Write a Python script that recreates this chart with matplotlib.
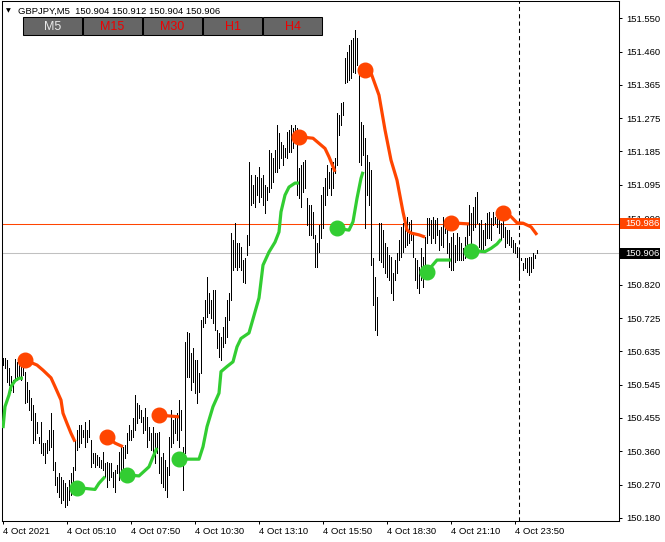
import matplotlib
matplotlib.use('Agg')
import matplotlib.pyplot as plt
import matplotlib.transforms as mtransforms
from matplotlib.patches import Rectangle

plt.rcParams['font.family'] = ['Liberation Sans', 'DejaVu Sans']

# M5 bars, high/low per bar (bar 0 = 4 Oct 02:30)
highs = [
    150.619, 150.619, 150.613, 150.591, 150.569, 150.558, 150.616, 150.608, 150.616, 150.613,
    150.599, 150.580, 150.553, 150.531, 150.509, 150.490, 150.468, 150.443, 150.402, 150.443,
    150.386, 150.386, 150.394, 150.421, 150.468, 150.421, 150.333, 150.292, 150.303, 150.292,
    150.284, 150.276, 150.265, 150.284, 150.303, 150.319, 150.394, 150.421, 150.435, 150.435,
    150.421, 150.443, 150.421, 150.448, 150.394, 150.358, 150.358, 150.352, 150.347, 150.339,
    150.361, 150.331, 150.333, 150.331, 150.331, 150.306, 150.311, 150.325, 150.361, 150.375,
    150.375, 150.380, 150.413, 150.435, 150.421, 150.454, 150.517, 150.495, 150.490, 150.476,
    150.457, 150.481, 150.457, 150.429, 150.413, 150.429, 150.413, 150.413, 150.416, 150.347,
    150.358, 150.339, 150.319, 150.402, 150.476, 150.448, 150.457, 150.468, 150.503, 150.476,
    150.375, 150.662, 150.690, 150.687, 150.632, 150.646, 150.613, 150.613, 150.577, 150.723,
    150.731, 150.777, 150.840, 150.797, 150.777, 150.805, 150.805, 150.695, 150.687, 150.676,
    150.704, 150.731, 150.777, 150.797, 150.961, 150.942, 150.989, 150.934, 150.934, 150.923,
    150.887, 150.893, 150.956, 151.156, 151.120, 151.092, 151.120, 151.115, 151.142, 151.112,
    151.120, 151.092, 151.087, 151.189, 151.181, 151.167, 151.189, 151.257, 151.235, 151.211,
    151.203, 151.194, 151.238, 151.244, 151.257, 151.249, 151.257, 151.249, 151.139, 151.148,
    151.156, 151.161, 151.057, 151.038, 151.038, 151.019, 150.956, 150.934, 150.983, 151.065,
    151.087, 151.112, 151.148, 151.128, 151.139, 151.156, 151.167, 151.290, 151.285, 151.318,
    151.320, 151.441, 151.457, 151.477, 151.490, 151.496, 151.518, 151.496, 151.414, 151.265,
    151.257, 151.222, 151.175, 151.156, 151.134, 150.893, 150.840, 150.786, 150.989, 150.989,
    150.969, 150.934, 150.923, 150.901, 150.895, 150.851, 150.887, 150.906, 150.942, 150.978,
    150.989, 150.997, 151.005, 150.991, 150.997, 150.961, 150.893, 150.887, 150.868, 150.920,
    150.895, 150.950, 151.002, 151.002, 150.997, 151.005, 150.997, 151.002, 150.969, 150.978,
    151.005, 150.997, 150.969, 150.934, 150.950, 150.961, 150.928, 150.961, 150.950, 150.934,
    150.920, 150.950, 150.989, 151.038, 151.016, 151.032, 151.060, 151.074, 150.989, 150.997,
    150.969, 150.989, 151.016, 151.019, 151.002, 151.019, 151.005, 151.016, 150.997, 150.989,
    150.997, 150.978, 150.969, 150.969, 150.950, 150.942, 150.934, 150.923, 150.915, 150.893,
    150.879, 150.893, 150.893, 150.895, 150.895, 150.906, 150.901, 150.915,
]
lows = [
    150.599, 150.591, 150.553, 150.544, 150.531, 150.525, 150.558, 150.558, 150.566, 150.558,
    150.572, 150.495, 150.498, 150.476, 150.448, 150.386, 150.394, 150.413, 150.386, 150.358,
    150.352, 150.331, 150.358, 150.366, 150.375, 150.311, 150.270, 150.251, 150.237, 150.221,
    150.229, 150.210, 150.215, 150.229, 150.243, 150.248, 150.311, 150.366, 150.375, 150.386,
    150.402, 150.375, 150.388, 150.402, 150.319, 150.331, 150.319, 150.325, 150.319, 150.317,
    150.311, 150.292, 150.265, 150.284, 150.292, 150.265, 150.251, 150.303, 150.284, 150.303,
    150.317, 150.344, 150.358, 150.394, 150.394, 150.402, 150.421, 150.440, 150.454, 150.443,
    150.413, 150.421, 150.375, 150.394, 150.366, 150.358, 150.331, 150.358, 150.303, 150.276,
    150.265, 150.256, 150.237, 150.298, 150.375, 150.386, 150.413, 150.394, 150.375, 150.421,
    150.256, 150.358, 150.566, 150.566, 150.531, 150.553, 150.522, 150.495, 150.525, 150.577,
    150.704, 150.714, 150.731, 150.742, 150.728, 150.714, 150.695, 150.646, 150.621, 150.613,
    150.649, 150.660, 150.676, 150.723, 150.777, 150.860, 150.868, 150.860, 150.868, 150.860,
    150.827, 150.824, 150.901, 150.928, 151.038, 151.043, 151.032, 151.065, 151.046, 151.060,
    151.038, 151.016, 151.052, 151.074, 151.084, 151.101, 151.128, 151.128, 151.139, 151.167,
    151.148, 151.170, 151.167, 151.183, 151.183, 151.194, 151.208, 151.065, 151.057, 151.032,
    151.074, 151.084, 150.983, 150.956, 150.956, 150.947, 150.868, 150.868, 150.909, 150.947,
    150.975, 151.038, 151.065, 151.084, 151.065, 151.084, 151.126, 151.148, 151.230, 151.257,
    151.285, 151.372, 151.375, 151.381, 151.386, 151.403, 151.400, 151.422, 151.156, 151.148,
    151.175, 150.975, 151.065, 151.038, 150.873, 150.764, 150.695, 150.682, 150.887, 150.882,
    150.868, 150.851, 150.840, 150.832, 150.797, 150.777, 150.832, 150.851, 150.887, 150.895,
    150.909, 150.923, 150.928, 150.934, 150.942, 150.895, 150.832, 150.810, 150.797, 150.832,
    150.813, 150.851, 150.934, 150.956, 150.934, 150.947, 150.934, 150.956, 150.915, 150.928,
    150.923, 150.961, 150.906, 150.868, 150.860, 150.860, 150.882, 150.887, 150.887, 150.887,
    150.887, 150.893, 150.895, 150.956, 150.934, 150.969, 150.978, 150.989, 150.923, 150.915,
    150.915, 150.928, 150.947, 150.947, 150.942, 150.983, 150.989, 150.978, 150.961, 150.942,
    150.950, 150.923, 150.934, 150.928, 150.923, 150.909, 150.906, 150.895, 150.840, 150.887,
    150.860, 150.865, 150.854, 150.846, 150.854, 150.865, 150.893, 150.906,
]

# indicator: green (up) and orange (down) segments, bar index / price
up_x = [
    [0, 1, 3, 4, 6, 8, 10],
    [37, 46, 48, 51],
    [62, 68, 73, 75, 77],
    [88, 98, 100, 102, 105, 108, 109, 112, 115, 117, 119, 123, 128, 130, 133, 136, 138, 139, 141, 143, 146, 148],
    [167, 173, 175, 177, 179, 180],
    [212, 217, 224],
    [234, 241, 244, 247, 249],
]
up_y = [
    [150.426, 150.485, 150.517, 150.540, 150.556, 150.563, 150.563],
    [150.263, 150.258, 150.275, 150.293],
    [150.298, 150.295, 150.320, 150.347, 150.372],
    [150.341, 150.341, 150.375, 150.430, 150.485, 150.522, 150.581, 150.595, 150.608, 150.649, 150.672,
     150.687, 150.783, 150.873, 150.909, 150.936, 150.964, 151.019, 151.065, 151.087, 151.098, 151.098],
    [150.974, 150.969, 150.992, 151.056, 151.111, 151.129],
    [150.855, 150.887, 150.887],
    [150.913, 150.910, 150.919, 150.931, 150.944],
]
down_x = [
    [11, 17, 20, 24, 26, 29, 30, 32, 34, 36],
    [52, 56, 60],
    [78, 88],
    [148, 155, 161, 163, 165, 166],
    [181, 184, 188, 191, 194, 197, 200, 202, 204, 208, 211],
    [224, 233],
    [250, 254, 257, 260, 264, 267],
]
down_y = [
    [150.613, 150.599, 150.585, 150.564, 150.540, 150.503, 150.467, 150.439, 150.412, 150.389],
    [150.403, 150.385, 150.375],
    [150.462, 150.457],
    [151.225, 151.221, 151.193, 151.170, 151.143, 151.129],
    [151.408, 151.400, 151.339, 151.244, 151.161, 151.106, 151.019, 150.969, 150.961, 150.956, 150.950],
    [150.989, 150.986],
    [151.017, 151.006, 150.989, 150.988, 150.978, 150.956],
]

bid = 150.906
ask = 150.986
day_sep = 258

time_ticks = [0, 32, 64, 96, 128, 160, 192, 224, 256]
time_labels = ['4 Oct 2021', '4 Oct 05:10', '4 Oct 07:50', '4 Oct 10:30', '4 Oct 13:10',
               '4 Oct 15:50', '4 Oct 18:30', '4 Oct 21:10', '4 Oct 23:50']
price_labels = ['150.180', '150.270', '150.360', '150.455', '150.545', '150.635', '150.725', '150.820',
                '150.910', '151.000', '151.095', '151.185', '151.275', '151.365', '151.460', '151.550']
price_ticks = [150.180 + k * (151.550 - 150.180) / 15 for k in range(16)]

header = 'GBPJPY,M5  150.904 150.912 150.904 150.906'
timeframes = ['M5', 'M15', 'M30', 'H1', 'H4']

GREEN = '#32cd32'
ORANGE = '#ff4500'
W, H = 665, 542

fig = plt.figure(figsize=(W / 100, H / 100), dpi=100)
ax = fig.add_axes([2 / W, (H - 521) / H, 616.5 / W, 520 / H])

ax.axhline(ask, color=ORANGE, lw=0.75, zorder=1)
ax.axhline(bid, color='#c0c0c0', lw=0.75, zorder=1)
ax.axvline(day_sep, color='black', lw=0.75, ls=(0, (4, 3)), zorder=1)

ax.vlines(range(len(highs)), lows, highs, color='black', lw=0.72, antialiased=False, zorder=2)

for xs, ys in zip(up_x, up_y):
    ax.plot(xs, ys, color=GREEN, lw=2.3, solid_capstyle='butt', zorder=3)
    if xs[0] > 0:
        ax.plot(xs[0], ys[0], 'o', ms=10.5, color=GREEN, zorder=4)
for xs, ys in zip(down_x, down_y):
    ax.plot(xs, ys, color=ORANGE, lw=2.3, solid_capstyle='butt', zorder=3)
    ax.plot(xs[0], ys[0], 'o', ms=10.5, color=ORANGE, zorder=4)

ax.set_xlim(-0.5, 307.75)
ax.set_ylim(151.6 - 0.002742 * 521, 151.6 - 0.002742 * 1)

ax.yaxis.tick_right()
ax.set_yticks(price_ticks, price_labels)
ax.set_xticks(time_ticks, time_labels)
for lbl in ax.get_xticklabels():
    lbl.set_horizontalalignment('left')
ax.tick_params(axis='both', direction='out', length=2.5, width=0.72, labelsize=6.8, colors='black')
ax.tick_params(axis='y', pad=3)
ax.tick_params(axis='x', pad=2)
for s in ax.spines.values():
    s.set_linewidth(0.75)
    s.set_color('black')

# price labels on the right scale
trans = mtransforms.blended_transform_factory(ax.transAxes, ax.transData)
box_h = 11 * 0.002742
for price, col in [(ask, ORANGE), (bid, 'black')]:
    ax.add_patch(Rectangle((1.002, price - box_h / 2), 0.066, box_h, transform=trans,
                           fc=col, ec='none', clip_on=False, zorder=5))
    ax.text(1.011, price, f'{price:.3f}', transform=trans, color='white', fontsize=6.8,
            va='center', ha='left', clip_on=False, zorder=6)

# header and timeframe buttons
fig.text(6 / W, 1 - 11 / H, '\u25bc', fontsize=4.5, family='DejaVu Sans', va='center', ha='left')
fig.text(18 / W, 1 - 11 / H, header, fontsize=6.8, va='center', ha='left')
for k, tf in enumerate(timeframes):
    x0 = 23 + 60 * k
    fig.add_artist(Rectangle((x0 / W, 1 - 35 / H), 59 / W, 18 / H, transform=fig.transFigure,
                             fc='#666666', ec='black', lw=0.75))
    fig.text((x0 + 29.5) / W, 1 - 26.5 / H, tf, fontsize=9, ha='center', va='center',
             color='#e8e8e8' if k == 0 else '#ee0000')

fig.savefig('out.png', dpi=100, facecolor='white')
